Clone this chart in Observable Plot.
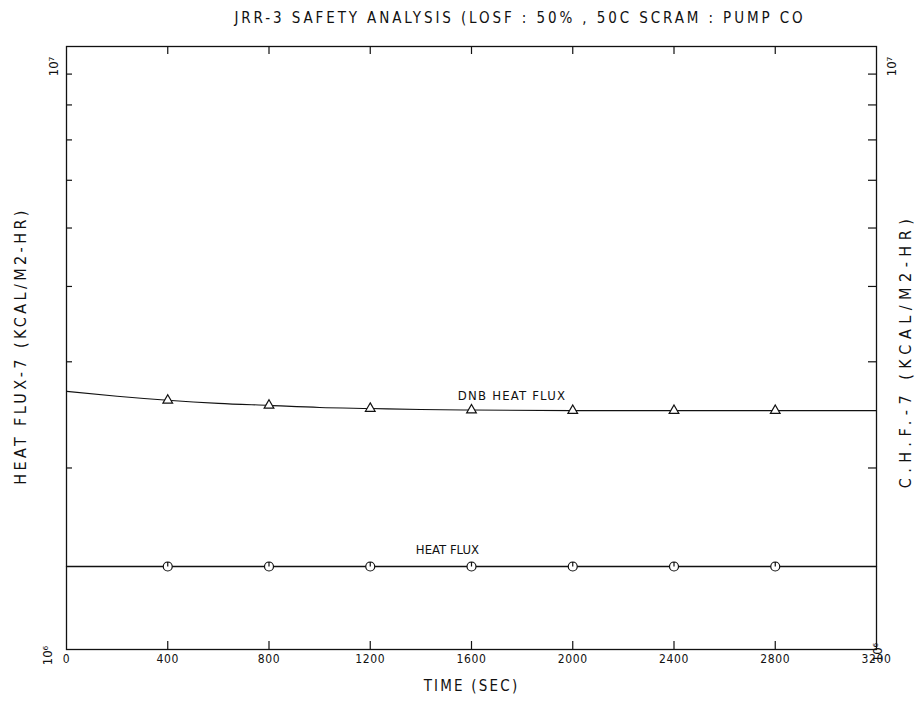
<!DOCTYPE html>
<html><head><meta charset="utf-8">
<script src="https://cdn.jsdelivr.net/npm/d3@7"></script>
<script src="https://cdn.jsdelivr.net/npm/@observablehq/plot@0.6"></script>
<style>
body{margin:0;background:#fff;}
#title{width:920px;box-sizing:border-box;padding-left:120px;height:30px;line-height:36px;text-align:center;font-family:"DejaVu Sans Condensed","Liberation Sans Narrow",sans-serif;font-size:15px;letter-spacing:2.9px;color:#111;white-space:nowrap;}
.lab-left text{letter-spacing:3.4px;}
.lab-right text{letter-spacing:5.5px;}
.lab-time text{letter-spacing:2.2px;}
.lab-dnb text{letter-spacing:1.2px;}
.lab-ticks text{letter-spacing:0.6px;}
</style></head>
<body>
<div id="title">JRR-3 SAFETY ANALYSIS (LOSF : 50% , 50C SCRAM : PUMP CO</div>
<div id="chart"></div>
<script>
const times = [0, 200, 400, 600, 800, 1000, 1200, 1400, 1600, 2000, 2400, 2800, 3200];
const dnbFlux = [2.68e6, 2.63e6, 2.59e6, 2.56e6, 2.54e6, 2.52e6, 2.51e6, 2.50e6, 2.495e6, 2.49e6, 2.49e6, 2.49e6, 2.49e6];
const heatFlux = [1.373e6, 1.373e6, 1.373e6, 1.373e6, 1.373e6, 1.373e6, 1.373e6, 1.373e6, 1.373e6, 1.373e6, 1.373e6, 1.373e6, 1.373e6];
const markerTimes = [400, 800, 1200, 1600, 2000, 2400, 2800];
const xTicks = [0, 400, 800, 1200, 1600, 2000, 2400, 2800, 3200];
const yTicks = [2e6, 3e6, 4e6, 5e6, 6e6, 7e6, 8e6, 9e6];
const dnbLabel = [{text: "DNB HEAT FLUX", t: 1760, v: 2.495e6}];
const heatLabel = [{text: "HEAT FLUX", t: 1505, v: 1.373e6}];

const dnb = times.map((t, i) => ({t, v: dnbFlux[i]}));
const heat = times.map((t, i) => ({t, v: heatFlux[i]}));
const dnbM = dnb.filter(d => markerTimes.includes(d.t));
const heatM = heat.filter(d => markerTimes.includes(d.t));

const W = 920, H = 672, mL = 66, mR = 44, mT = 16, mB = 53;
const pW = W - mL - mR, pH = H - mT - mB;
const font = '"DejaVu Sans Condensed","Liberation Sans Narrow",sans-serif';
const ink = "#111";

const circleTick = {
  draw(ctx, size) {
    const r = Math.sqrt(size / Math.PI);
    ctx.moveTo(r, 0);
    ctx.arc(0, 0, r, 0, 2 * Math.PI);
    ctx.moveTo(0, 0);
    ctx.lineTo(0, -r);
  }
};

const rot = {rotate: -90, textAnchor: "middle", fill: ink};

const chart = Plot.plot({
  width: W, height: H,
  marginLeft: mL, marginRight: mR, marginTop: mT, marginBottom: mB,
  style: {fontFamily: font, color: ink, background: "#fff"},
  x: {domain: [0, 3200], axis: null},
  y: {type: "log", domain: [1e6, 1e7], axis: null},
  marks: [
    Plot.frame({stroke: ink, strokeWidth: 1.3}),
    // inward ticks
    Plot.ruleX(xTicks.slice(1, -1), {insetTop: pH - 8, stroke: ink, strokeWidth: 1.2}),
    Plot.ruleX(xTicks.slice(1, -1), {insetBottom: pH - 8, stroke: ink, strokeWidth: 1.2}),
    Plot.ruleY(yTicks, {insetRight: pW - 6, stroke: ink, strokeWidth: 1.2}),
    Plot.ruleY(yTicks, {insetLeft: pW - 8, stroke: ink, strokeWidth: 1.2}),
    // tick labels
    Plot.text(xTicks, {x: d => d, frameAnchor: "bottom", dy: 13, text: d => String(d), fontSize: 12, fill: ink, className: "lab-ticks"}),
    // decade labels
    Plot.text(["10\u2077"], {frameAnchor: "top-left", dx: -18, dy: 20, fontSize: 13, ...rot}),
    Plot.text(["10\u2076"], {frameAnchor: "bottom-left", dx: -15, dy: 6, fontSize: 13, ...rot}),
    Plot.text(["10\u2077"], {frameAnchor: "top-right", dx: 10, dy: 20, fontSize: 13, ...rot}),
    Plot.text(["10\u2076"], {frameAnchor: "bottom-right", dx: 5, dy: 3, fontSize: 13, ...rot}),
    // axis titles
    Plot.text(["HEAT FLUX-7 (KCAL/M2-HR)"], {frameAnchor: "left", dx: -46, dy: -2, fontSize: 16, className: "lab-left", ...rot}),
    Plot.text(["C.H.F.-7 (KCAL/M2-HR)"], {frameAnchor: "right", dx: 29, dy: 3, fontSize: 16, className: "lab-right", ...rot}),
    Plot.text(["TIME (SEC)"], {frameAnchor: "bottom", dy: 41, fontSize: 15, fill: ink, className: "lab-time"}),
    // series
    Plot.line(dnb, {x: "t", y: "v", curve: "monotone-x", stroke: ink, strokeWidth: 1.1}),
    Plot.line(heat, {x: "t", y: "v", stroke: ink, strokeWidth: 1.3}),
    Plot.dot(dnbM, {x: "t", y: "v", symbol: "triangle", r: 3.6, stroke: ink, fill: "#fff", strokeWidth: 1.2}),
    Plot.dot(heatM, {x: "t", y: "v", symbol: circleTick, r: 4.5, stroke: ink, fill: "#fff", strokeWidth: 1.2}),
    Plot.text(dnbLabel, {x: "t", y: "v", text: "text", dy: -14, fontSize: 13, fill: ink, className: "lab-dnb"}),
    Plot.text(heatLabel, {x: "t", y: "v", text: "text", dy: -17, fontSize: 13, fill: ink})
  ]
});
document.getElementById("chart").append(chart);
</script>
</body></html>
